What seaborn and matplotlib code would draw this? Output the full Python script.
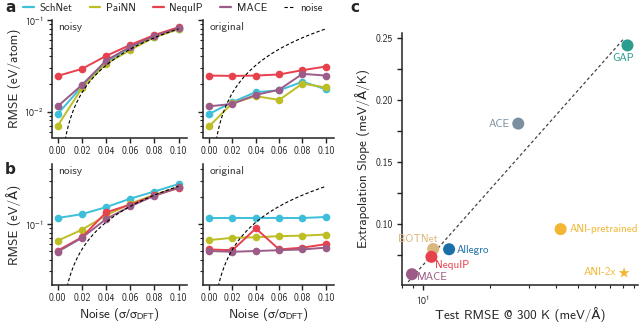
import numpy as np
import pandas as pd
import matplotlib
matplotlib.use("Agg")
import matplotlib.pyplot as plt
import matplotlib.ticker as mticker
from matplotlib.lines import Line2D
import seaborn as sns

# ---------------- data ----------------
noise_levels = [0.00, 0.02, 0.04, 0.06, 0.08, 0.10]
models = ["SchNet", "PaiNN", "NequIP", "MACE"]

# panel a: energy RMSE (eV/atom)
energy_noisy_schnet = [0.0094, 0.0188, 0.0348, 0.0499, 0.0658, 0.0798]
energy_noisy_painn = [0.0070, 0.0180, 0.0331, 0.0471, 0.0648, 0.0791]
energy_noisy_nequip = [0.0245, 0.0292, 0.0405, 0.0534, 0.0686, 0.0833]
energy_noisy_mace = [0.0114, 0.0195, 0.0360, 0.0510, 0.0670, 0.0810]

energy_orig_schnet = [0.0094, 0.0127, 0.0163, 0.0170, 0.0212, 0.0175]
energy_orig_painn = [0.0069, 0.0124, 0.0147, 0.0134, 0.0202, 0.0183]
energy_orig_nequip = [0.0247, 0.0245, 0.0247, 0.0254, 0.0283, 0.0310]
energy_orig_mace = [0.0114, 0.0121, 0.0152, 0.0173, 0.0258, 0.0247]

# panel b: force RMSE (eV/Å)
force_noisy_schnet = [0.116, 0.128, 0.153, 0.190, 0.228, 0.276]
force_noisy_painn = [0.065, 0.086, 0.124, 0.167, 0.210, 0.256]
force_noisy_nequip = [0.0505, 0.071, 0.134, 0.163, 0.206, 0.249]
force_noisy_mace = [0.049, 0.070, 0.113, 0.156, 0.205, 0.253]

force_orig_schnet = [0.116, 0.116, 0.116, 0.116, 0.116, 0.119]
force_orig_painn = [0.066, 0.070, 0.071, 0.073, 0.074, 0.076]
force_orig_nequip = [0.052, 0.051, 0.089, 0.052, 0.0545, 0.0595]
force_orig_mace = [0.050, 0.049, 0.050, 0.051, 0.052, 0.0545]

# reference noise line: RMSE = slope * sigma
noise_slope_energy = 0.8
noise_slope_force = 2.6

# panel c
c_models = ["GAP", "ACE", "ANI-pretrained", "BOTNet", "Allegro", "NequIP", "MACE", "ANI-2x"]
c_test_rmse = [83.8, 26.9, 41.8, 11.1, 13.1, 10.9, 8.9, 80.9]
c_slope = [0.244, 0.181, 0.096, 0.080, 0.0798, 0.0737, 0.0597, 0.0607]
fit_x = [8.55, 80.3]
fit_y = [0.0535, 0.249]

# ---------------- style ----------------
sns.set_theme(style="ticks")
plt.rcParams["font.family"] = ["cmss10", "DejaVu Sans"]
plt.rcParams["mathtext.fontset"] = "stixsans"
plt.rcParams["axes.unicode_minus"] = False
plt.rcParams["axes.linewidth"] = 1.1
plt.rcParams["axes.edgecolor"] = "#222222"
plt.rcParams["xtick.color"] = "#222222"
plt.rcParams["ytick.color"] = "#222222"

pal = {"SchNet": "#3DBFD9", "PaiNN": "#BDBD26", "NequIP": "#E8414E", "MACE": "#9C5C87"}
cpal = {"GAP": "#2A9D8F", "ACE": "#7B8FA1", "ANI-pretrained": "#F2B632", "BOTNet": "#DDB67E",
        "Allegro": "#1A6FA8", "NequIP": "#E8414E", "MACE": "#9C5C87", "ANI-2x": "#F2B632"}

def make_df(series):
    rows = []
    for m, vals in zip(models, series):
        for s, v in zip(noise_levels, vals):
            rows.append({"model": m, "noise": s, "rmse": v})
    return pd.DataFrame(rows)

df_a_noisy = make_df([energy_noisy_schnet, energy_noisy_painn, energy_noisy_nequip, energy_noisy_mace])
df_a_orig = make_df([energy_orig_schnet, energy_orig_painn, energy_orig_nequip, energy_orig_mace])
df_b_noisy = make_df([force_noisy_schnet, force_noisy_painn, force_noisy_nequip, force_noisy_mace])
df_b_orig = make_df([force_orig_schnet, force_orig_painn, force_orig_nequip, force_orig_mace])

W, H = 640, 324
fig = plt.figure(figsize=(W / 100, H / 100), dpi=100)

def px_axes(x0, x1, y0, y1):
    return fig.add_axes([x0 / W, 1 - y1 / H, (x1 - x0) / W, (y1 - y0) / H])

axaL = px_axes(51.7, 187, 20, 137.5)
axaR = px_axes(203.3, 334, 20, 137.5)
axbL = px_axes(51.7, 187, 164, 285)
axbR = px_axes(203.3, 334, 164, 285)
axc = px_axes(401.7, 638, 33, 285)

sigma_grid = np.linspace(0.0005, 0.1, 300)

def log_fmt(v, pos):
    e = int(round(np.log10(v)))
    return r"$10^{%d}$" % e

def draw_panel(ax, df, slope, ylim, tag, show_ylabels, ylabel=None, xlabel=None):
    sns.lineplot(data=df, x="noise", y="rmse", hue="model", hue_order=models, palette=pal,
                 marker="o", markersize=5.5, markeredgewidth=0, linewidth=1.4,
                 legend=False, ax=ax)
    ax.plot(sigma_grid, slope * sigma_grid, color="black", lw=0.8, ls=(0, (3, 2)))
    ax.set_yscale("log")
    ax.set_ylim(*ylim)
    ax.set_xlim(-0.005, 0.107)
    ax.set_xticks(noise_levels)
    ax.xaxis.set_major_formatter(mticker.FormatStrFormatter("%.2f"))
    ax.tick_params(axis="both", which="major", labelsize=7, length=3.5, width=1, pad=2.5)
    ax.tick_params(axis="y", which="minor", length=2, width=0.8)
    if show_ylabels:
        ax.yaxis.set_major_formatter(mticker.FuncFormatter(log_fmt))
    else:
        ax.yaxis.set_major_formatter(mticker.NullFormatter())
    ax.yaxis.set_minor_formatter(mticker.NullFormatter())
    ax.set_ylabel(ylabel if ylabel else "", fontsize=9.5)
    ax.set_xlabel(xlabel if xlabel else "", fontsize=9.5, labelpad=2)
    ax.text(0.045, 0.985, tag, transform=ax.transAxes, ha="left", va="top", fontsize=8.2, color="#333333")
    sns.despine(ax=ax)

draw_panel(axaL, df_a_noisy, noise_slope_energy, (0.0052, 0.1), "noisy", True, "RMSE (eV/atom)")
draw_panel(axaR, df_a_orig, noise_slope_energy, (0.0052, 0.1), "original", False)
xl = r"Noise ($\mathrm{\sigma}/\mathrm{\sigma}_{\mathrm{DFT}}$)"
draw_panel(axbL, df_b_noisy, noise_slope_force, (0.021, 0.46), "noisy", True, "RMSE (eV/Å)", xl)
draw_panel(axbR, df_b_orig, noise_slope_force, (0.021, 0.46), "original", False, None, xl)
axaL.yaxis.set_label_coords(-0.23, 0.5)
axbL.yaxis.set_label_coords(-0.23, 0.5)

# ---------------- panel c ----------------
dfc = pd.DataFrame({"model": c_models, "rmse": c_test_rmse, "slope": c_slope})
dfc_circ = dfc[dfc["model"] != "ANI-2x"]
dfc_star = dfc[dfc["model"] == "ANI-2x"]
axc.plot(fit_x, fit_y, color="#444444", lw=0.9, ls=(0, (2.5, 2)))
sns.scatterplot(data=dfc_circ, x="rmse", y="slope", hue="model", palette=cpal, s=75,
                edgecolor="none", legend=False, ax=axc, zorder=3)
sns.scatterplot(data=dfc_star, x="rmse", y="slope", hue="model", palette=cpal, s=70,
                marker="*", edgecolor="none", legend=False, ax=axc, zorder=3)
axc.set_xscale("log")
axc.set_xlim(8.0, 93.5)
axc.set_ylim(0.051, 0.254)
axc.set_yticks([0.10, 0.15, 0.20, 0.25])
axc.yaxis.set_minor_locator(mticker.FixedLocator([0.075, 0.125, 0.175, 0.225]))
axc.yaxis.set_major_formatter(mticker.FormatStrFormatter("%.2f"))
axc.xaxis.set_major_formatter(mticker.FuncFormatter(log_fmt))
axc.tick_params(axis="both", which="major", labelsize=7, length=3.5, width=1, pad=2.5)
axc.tick_params(axis="both", which="minor", length=3.5, width=1)
axc.tick_params(axis="x", which="minor", length=2, width=0.8)
axc.xaxis.set_minor_formatter(mticker.NullFormatter())
axc.set_xlabel("Test RMSE @ 300 K (meV/Å)", fontsize=9.5, labelpad=0)
axc.set_ylabel("Extrapolation Slope (meV/Å/K)", fontsize=9.5)
sns.despine(ax=axc)

offsets = {
    "GAP": ((-4, -13), "center", "center"),
    "ACE": ((-8, 0), "right", "center"),
    "ANI-pretrained": ((9, 0), "left", "center"),
    "BOTNet": ((-15, 10), "center", "center"),
    "Allegro": ((8, -1), "left", "center"),
    "NequIP": ((4, -8), "left", "center"),
    "MACE": ((5, -3), "left", "center"),
    "ANI-2x": ((-8, 1), "right", "center"),
}
for m, xv, yv in zip(c_models, c_test_rmse, c_slope):
    (dx, dy), ha, va = offsets[m]
    axc.annotate(m, (xv, yv), xytext=(dx * 0.72, dy * 0.72), textcoords="offset points",
                 ha=ha, va=va, fontsize=8, color=cpal[m])

# ---------------- legend & panel letters ----------------
handles = [Line2D([0], [0], color=pal[m], lw=1.6) for m in models]
handles.append(Line2D([0], [0], color="black", lw=0.8, ls=(0, (3, 2))))
fig.legend(handles, models + ["noise"], loc="center", bbox_to_anchor=(173 / W, 1 - 8 / H),
           ncol=5, frameon=False, fontsize=7.8, handlelength=1.0, handletextpad=0.5,
           columnspacing=1.6, borderaxespad=0)

fig.text(5 / W, 1 - 8 / H, "a", fontsize=11, fontweight="bold", va="center", ha="left",
         family="DejaVu Sans")
fig.text(5 / W, 1 - 170 / H, "b", fontsize=11, fontweight="bold", va="center", ha="left",
         family="DejaVu Sans")
fig.text(350 / W, 1 - 8 / H, "c", fontsize=11, fontweight="bold", va="center", ha="left",
         family="DejaVu Sans")

fig.savefig("out.png", dpi=100)
